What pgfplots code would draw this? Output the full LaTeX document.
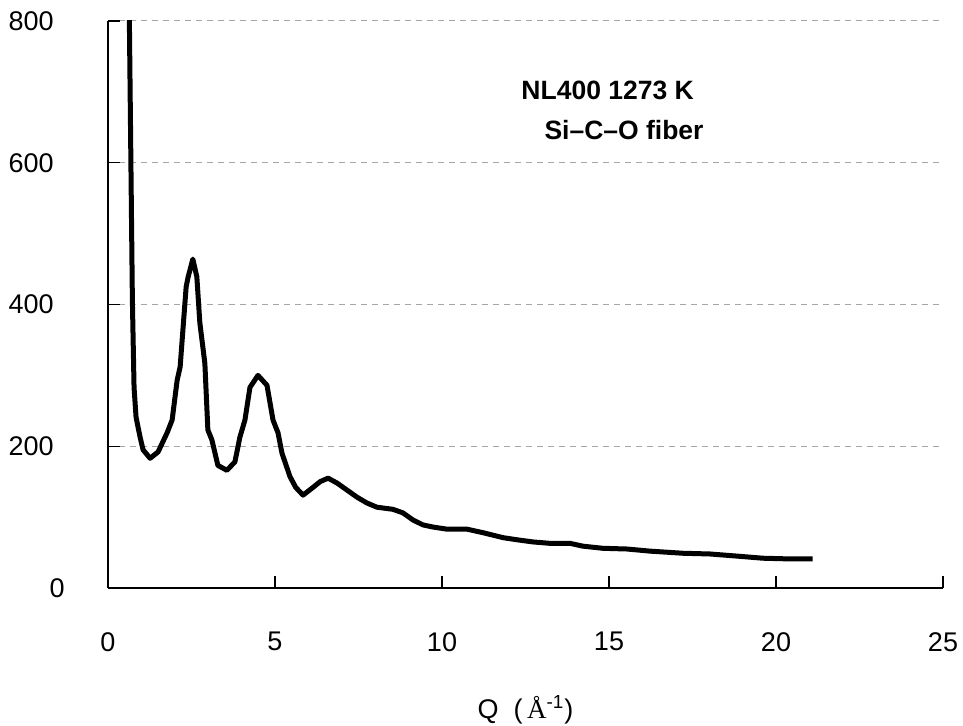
\documentclass[border=0pt]{standalone}
\usepackage{pgfplots}
\pgfplotsset{compat=1.18}
\usepackage{fontspec}
\setmainfont{Liberation Sans}
\newfontfamily\serifA{Liberation Serif}

\pgfplotstableread{
x y
0.62 860
0.64 800
0.73 406
0.78 283
0.84 241
0.96 213
1.05 195
1.26 183
1.50 192
1.77 219
1.92 237
2.07 293
2.16 312
2.34 425
2.40 439
2.54 464
2.66 439
2.75 374
2.90 317
2.99 223
3.11 209
3.29 173
3.56 166
3.80 178
3.95 213
4.10 237
4.25 283
4.49 300
4.76 286
4.94 237
5.09 219
5.21 190
5.45 157
5.62 142
5.84 131
6.14 142
6.35 150
6.59 155
6.86 148
7.16 138
7.46 128
7.75 120
8.05 114
8.53 111
8.83 106
9.13 96
9.43 89
9.73 86
10.15 83
10.75 83
11.23 78
11.83 71
12.25 68
12.72 65
13.23 63
13.83 63
14.22 59
14.82 56
15.54 55
16.23 52
17.22 49
18.02 48
18.83 45
19.61 42
20.42 41
21.10 41
}\sicodata

\begin{document}
\begin{tikzpicture}
\useasboundingbox (-54pt,-69pt) rectangle (427.5pt,294pt);
\begin{axis}[
  at={(0,0)}, anchor=south west,
  scale only axis,
  width=417.5pt, height=283.5pt,
  xmin=0, xmax=25, ymin=0, ymax=800,
  xtick={0,5,...,25}, ytick={0,200,...,800},
  yticklabels={\makebox[2pt][l]{0},200,400,600,800},
  axis lines=left,
  axis line style={-, line width=0.9pt},
  tick align=inside,
  major tick length=6pt,
  tick style={black, line width=0.6pt},
  ymajorgrids,
  grid style={gray!70, dash pattern=on 3pt off 2.5pt, line width=0.5pt},
  tick label style={font=\fontsize{13.5}{16}\selectfont},
  /pgf/number format/assume math mode=true,
  yticklabel style={anchor=east, inner sep=0pt, xshift=-27pt},
  xticklabel style={anchor=north, inner sep=0pt, yshift=-22pt},
  xlabel={Q\ \ (\,{\serifA Å}\textsuperscript{-1})},
  xlabel style={at={(axis description cs:0.5,0)}, anchor=center, yshift=-61pt, font=\fontsize{13.5}{16}\selectfont},
]
\addplot[black, line width=2.5pt, line join=round] table[x=x, y=y] {\sicodata};
\node[font=\bfseries\fontsize{13.25}{16}\selectfont] at (axis cs:14.96,702) {NL400 1273 K};
\node[font=\bfseries\fontsize{13.25}{16}\selectfont] at (axis cs:15.45,646) {Si–C–O fiber};
\end{axis}
\end{tikzpicture}
\end{document}
